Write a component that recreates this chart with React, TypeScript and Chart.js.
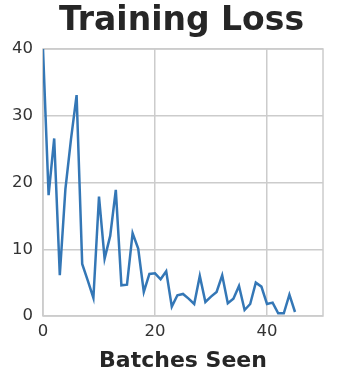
import React, { useEffect, useRef } from "react";
import { Chart, registerables } from "chart.js";

Chart.register(...registerables);

const batches = [
  0, 1, 2, 3, 4, 5, 6, 7, 8, 9, 10, 11, 12, 13, 14, 15, 16, 17, 18, 19, 20, 21, 22,
  23, 24, 25, 26, 27, 28, 29, 30, 31, 32, 33, 34, 35, 36, 37, 38, 39, 40, 41, 42,
  43, 44, 45,
];
const loss = [
  40, 18.1, 26.6, 6.1, 19, 26.5, 33.1, 7.8, 5.3, 2.7, 17.9, 8.6, 12, 18.9, 4.6,
  4.7, 12.4, 10.1, 3.6, 6.3, 6.4, 5.5, 6.7, 1.4, 3.1, 3.3, 2.6, 1.8, 6.0, 2.1,
  2.9, 3.6, 6.1, 1.9, 2.6, 4.5, 0.9, 1.8, 5.0, 4.4, 1.8, 2.0, 0.4, 0.4, 3.2, 0.6,
];
const xTicks = [0, 20, 40];
const yTicks = [0, 10, 20, 30, 40];

const titleText = "Training Loss";
const xTitle = "Batches Seen";
const FONT = "'DejaVu Sans', sans-serif";

const framePlugin = {
  id: "frameAndTitle",
  beforeDatasetsDraw(chart: any) {
    const { ctx, chartArea } = chart;
    ctx.save();
    ctx.strokeStyle = "#cccccc";
    ctx.lineWidth = 1.5;
    ctx.strokeRect(chartArea.left, chartArea.top, chartArea.right - chartArea.left, chartArea.bottom - chartArea.top);
    ctx.restore();
  },
  afterDraw(chart: any) {
    const { ctx } = chart;
    ctx.save();
    ctx.fillStyle = "#262626";
    ctx.font = `bold 33px ${FONT}`;
    const w = ctx.measureText(titleText).width;
    const size = Math.min(33, (33 * 252) / w);
    ctx.font = `bold ${size}px ${FONT}`;
    const w2 = ctx.measureText(titleText).width;
    ctx.textAlign = "left";
    ctx.textBaseline = "alphabetic";
    ctx.fillText(titleText, 181.5 - w2 / 2, 29.5);
    ctx.restore();
  },
};

export default function App() {
  const ref = useRef<HTMLCanvasElement>(null);
  useEffect(() => {
    if (!ref.current) return;
    const chart = new Chart(ref.current, {
      type: "line",
      data: {
        datasets: [
          {
            data: batches.map((b, i) => ({ x: b, y: loss[i] })),
            borderColor: "#3477b6",
            borderWidth: 2.5,
            pointRadius: 0,
            tension: 0,
            fill: false,
          },
        ],
      },
      options: {
        animation: false,
        responsive: false,
        maintainAspectRatio: false,
        layout: { padding: { left: 0, right: 29, top: 49, bottom: 0 } },
        plugins: { legend: { display: false }, title: { display: false }, tooltip: { enabled: false } },
        scales: {
          x: {
            type: "linear",
            min: 0,
            max: 50,
            afterBuildTicks: (s: any) => {
              s.ticks = xTicks.map((v) => ({ value: v }));
            },
            afterFit: (s: any) => {
              s.height = 64;
            },
            grid: { color: "#cccccc", lineWidth: 1.5, drawTicks: false },
            border: { display: false },
            ticks: { color: "#333333", font: { family: FONT, size: 16.5 }, padding: 6, maxRotation: 0 },
            title: {
              display: true,
              text: xTitle,
              color: "#262626",
              font: { family: FONT, size: 22, weight: "bold" },
              padding: { top: 0, bottom: 6 },
            },
          },
          y: {
            min: 0,
            max: 40,
            afterBuildTicks: (s: any) => {
              s.ticks = yTicks.map((v) => ({ value: v }));
            },
            afterFit: (s: any) => {
              s.width = 43;
            },
            grid: { color: "#cccccc", lineWidth: 1.5, drawTicks: false },
            border: { display: false },
            ticks: { color: "#333333", font: { family: FONT, size: 16.5 }, padding: 10 },
          },
        },
      },
      plugins: [framePlugin],
    } as any);
    return () => chart.destroy();
  }, []);
  return (
    <div style={{ position: "fixed", left: 0, top: 0, width: 352, height: 380, background: "#fff" }}>
      <canvas ref={ref} width={352} height={380} style={{ width: 352, height: 380 }} />
    </div>
  );
}
